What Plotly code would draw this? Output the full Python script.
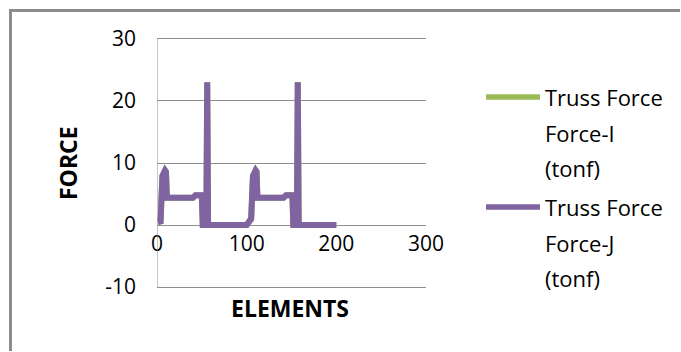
import plotly.graph_objects as go

# Truss member forces along the element index
elements = [1, 4, 6, 9, 10, 11, 40, 43, 50, 51, 55, 56, 57, 100, 103, 105, 107,
            110, 111, 112, 141, 144, 151, 152, 156, 157, 158, 200]
force_i = [0.5, 0.6, 7.9, 8.8, 8.6, 4.4, 4.4, 4.8, 4.8, 0, 0, 23, 0, 0, 0.8, 1.0, 7.9,
           8.8, 8.6, 4.4, 4.4, 4.8, 4.8, 0, 0, 23, 0, 0]
force_j = [0.5, 0.6, 7.9, 8.8, 8.6, 4.4, 4.4, 4.8, 4.8, 0, 0, 23, 0, 0, 0.8, 1.0, 7.9,
           8.8, 8.6, 4.4, 4.4, 4.8, 4.8, 0, 0, 23, 0, 0]

series_names = ["Truss Force<br>Force-I<br>(tonf)", "Truss Force<br>Force-J<br>(tonf)"]
series_colors = ["#9BBB59", "#8064A2"]
x_ticks = [0, 100, 200, 300]
y_ticks = [-10, 0, 10, 20, 30]
y_tick_text = ["-10", "0", "10", "20", "30"]
y_range = [-10.3, 30.3]

FONT = "Open Sans"
W, H = 681, 352
L, R, T, B = 157, 255, 37, 63
pw, ph = W - L - R, H - T - B


def px_x(p):
    return (p - L) / pw


def px_y(p):
    return (H - B - p) / ph


fig = go.Figure()
for ys, name, col in zip([force_i, force_j], series_names, series_colors):
    fig.add_trace(go.Scatter(x=elements, y=ys, mode="lines", name=name,
                             line=dict(color=col, width=6), showlegend=False))

grid = "#8e8e8e"
fig.update_layout(
    width=W, height=H,
    margin=dict(l=L, r=R, t=T, b=B),
    paper_bgcolor="white", plot_bgcolor="white",
    font=dict(family=FONT, size=21, color="black"),
    xaxis=dict(range=[0, 300], tickvals=x_ticks, showgrid=False, zeroline=False,
               showline=False, ticks="", anchor="free",
               position=(0 - y_range[0]) / (y_range[1] - y_range[0]),
               ticklabelstandoff=4),
    yaxis=dict(range=y_range, tickvals=y_ticks, ticktext=y_tick_text,
               showgrid=True, gridcolor=grid, gridwidth=1, zeroline=False,
               showline=False, ticks="", ticklabelstandoff=20),
)

# vertical value axis line spanning -10..30
fig.add_shape(type="line", xref="x", yref="y", x0=0, x1=0, y0=-10, y1=30,
              line=dict(color=grid, width=1))

# chart-area frame (top and left edges)
frame = dict(color="#8c8c8c", width=3)
fig.add_shape(type="line", xref="paper", yref="paper",
              x0=px_x(10.5), x1=px_x(W - 1), y0=px_y(10.5), y1=px_y(10.5), line=frame)
fig.add_shape(type="line", xref="paper", yref="paper",
              x0=px_x(10.5), x1=px_x(10.5), y0=px_y(9), y1=px_y(H - 1), line=frame)

# axis titles
fig.add_annotation(text="<b>ELEMENTS</b>", xref="paper", yref="paper",
                   x=px_x(290), y=px_y(308), showarrow=False,
                   xanchor="center", yanchor="middle", font=dict(size=23))
fig.add_annotation(text="<b>FORCE</b>", xref="paper", yref="paper",
                   x=px_x(68), y=px_y(163), showarrow=False, textangle=-90,
                   xanchor="center", yanchor="middle", font=dict(size=23))

# legend
for k, (name, col) in enumerate(zip(series_names, series_colors)):
    top = 97 + k * 110
    fig.add_shape(type="line", xref="paper", yref="paper",
                  x0=px_x(486), x1=px_x(540), y0=px_y(top), y1=px_y(top),
                  line=dict(color=col, width=5.5))
    for j, part in enumerate(name.split("<br>")):
        fig.add_annotation(text=part, xref="paper", yref="paper",
                           x=px_x(543), y=px_y(top + j * 35.5), showarrow=False,
                           xanchor="left", yanchor="middle", font=dict(size=22))

fig.write_html("out.html", config={"displayModeBar": False},
               post_script="document.body.style.margin='0';"
                           "document.body.style.overflow='hidden';")
